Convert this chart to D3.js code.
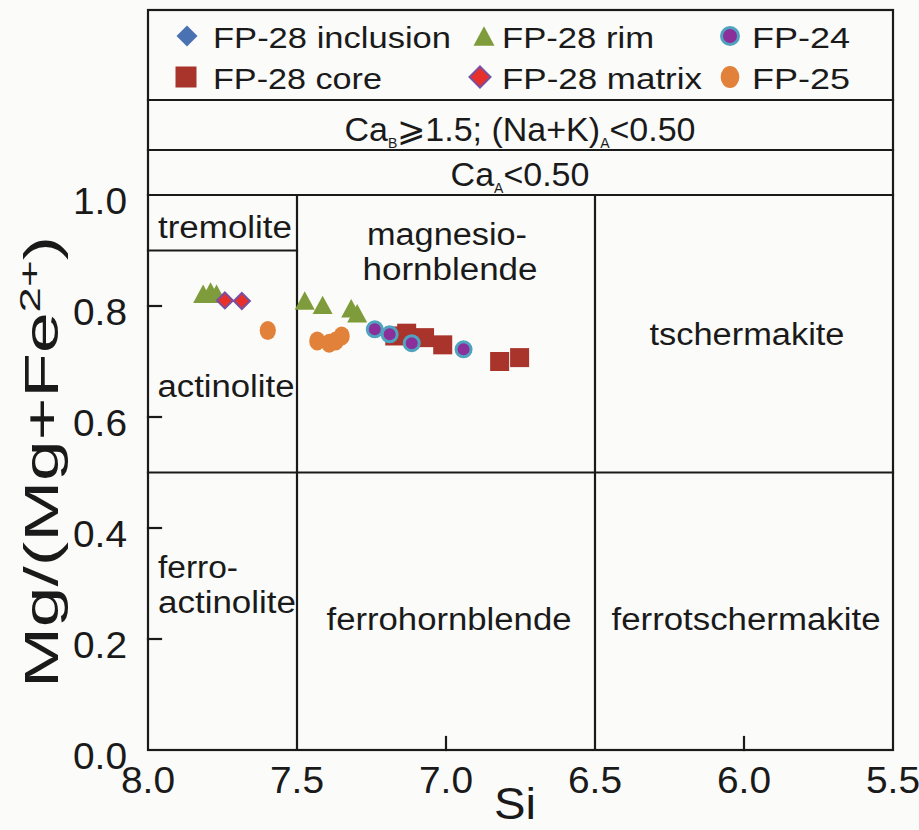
<!DOCTYPE html>
<html>
<head>
<meta charset="utf-8">
<script src="https://cdn.jsdelivr.net/npm/d3@7"></script>
<style>
  html, body { margin: 0; padding: 0; background: #fbfbf9; }
  svg { display: block; }
  text { font-family: "Liberation Sans", Arial, sans-serif; fill: #1a1a1a; }
</style>
</head>
<body>
<svg id="chart" width="919" height="830"></svg>
<script>
// ---- data: Si (apfu) vs Mg/(Mg+Fe2+) for calcic amphiboles ----
const fp28InclusionSi = [];
const fp28InclusionMg = [];

const fp28RimSi = [7.815, 7.79, 7.77, 7.474, 7.414, 7.318, 7.298];
const fp28RimMg = [0.822, 0.826, 0.822, 0.81, 0.802, 0.796, 0.787];

const fp28MatrixSi = [7.742, 7.685];
const fp28MatrixMg = [0.81, 0.809];

const fp25Si = [7.598, 7.432, 7.392, 7.37, 7.35];
const fp25Mg = [0.756, 0.737, 0.733, 0.737, 0.746];

const fp28CoreSi = [7.172, 7.132, 7.072, 7.011, 6.82, 6.753];
const fp28CoreMg = [0.746, 0.751, 0.743, 0.73, 0.7, 0.707];

const fp24Si = [7.239, 7.189, 7.115, 6.941];
const fp24Mg = [0.758, 0.749, 0.733, 0.722];

// axis ticks
const xTicks = [8.0, 7.5, 7.0, 6.5, 6.0, 5.5];
const yTicks = [0.0, 0.2, 0.4, 0.6, 0.8, 1.0];

// classification boundaries
const siBounds = [7.5, 6.5];
const mgBound = 0.5;
const tremoliteBound = 0.9;

// ---- layout ----
const svg = d3.select("#chart");
const M = { left: 148, right: 893, top: 10, bottom: 750, plotTop: 195, legendBottom: 100, bandBottom: 150 };

const x = d3.scaleLinear().domain([8.0, 5.5]).range([M.left, M.right]);
const y = d3.scaleLinear().domain([0, 1]).range([M.bottom, M.plotTop]);

const ink = "#1a1a1a";
const lw = 2.2;

function line(x1, y1, x2, y2) {
  svg.append("line").attr("x1", x1).attr("y1", y1).attr("x2", x2).attr("y2", y2)
    .attr("stroke", ink).attr("stroke-width", lw).attr("stroke-linecap", "square");
}

function label(txt, cx, baseline, size, width, anchor) {
  const t = svg.append("text").attr("x", cx).attr("y", baseline)
    .attr("font-size", size).attr("text-anchor", anchor || "middle").text(txt);
  if (width) t.attr("textLength", width).attr("lengthAdjust", "spacingAndGlyphs");
  return t;
}

// outer frame
svg.append("rect").attr("x", M.left).attr("y", M.top).attr("width", M.right - M.left).attr("height", M.bottom - M.top)
  .attr("fill", "none").attr("stroke", ink).attr("stroke-width", lw);

// header bands
line(M.left, M.legendBottom, M.right, M.legendBottom);
line(M.left, M.bandBottom, M.right, M.bandBottom);
line(M.left, y(1), M.right, y(1));

// field boundaries
siBounds.forEach(s => line(x(s), y(0), x(s), y(1)));
line(M.left, y(mgBound), M.right, y(mgBound));
line(M.left, y(tremoliteBound), x(7.5), y(tremoliteBound));

// inward ticks
const tickLen = 13;
yTicks.filter(v => v > 0 && v < 1).forEach(v => line(M.left, y(v), M.left + tickLen, y(v)));
xTicks.filter(v => v < 8 && v > 5.5 && !siBounds.includes(v)).forEach(v => line(x(v), M.bottom, x(v), M.bottom - tickLen));

// tick labels
xTicks.forEach(v => label(v.toFixed(1), x(v), 793, 37, 54));
yTicks.forEach(v => label(v.toFixed(1), 127, y(v) + 19, 37, 54, "end"));

// axis titles
label("Si", 515, 819, 45, 42);

const yt = svg.append("text")
  .attr("transform", "translate(58,462) rotate(-90)")
  .attr("text-anchor", "middle").attr("font-size", 48)
  .attr("textLength", 452).attr("lengthAdjust", "spacingAndGlyphs");
yt.append("tspan").text("Mg/(Mg+Fe");
yt.append("tspan").attr("font-size", 30).attr("dy", -18).text("2+");
yt.append("tspan").attr("dy", 18).text(")");

// band texts
const b1 = svg.append("text").attr("x", 520).attr("y", 141).attr("text-anchor", "middle").attr("font-size", 34);
b1.append("tspan").text("Ca");
b1.append("tspan").attr("font-size", 14).attr("dy", 7).text("B");
b1.append("tspan").attr("dy", -7).text("⩾1.5; (Na+K)");
b1.append("tspan").attr("font-size", 14).attr("dy", 7).text("A");
b1.append("tspan").attr("dy", -7).text("<0.50");

const b2 = svg.append("text").attr("x", 520).attr("y", 186).attr("text-anchor", "middle").attr("font-size", 34);
b2.append("tspan").text("Ca");
b2.append("tspan").attr("font-size", 14).attr("dy", 7).text("A");
b2.append("tspan").attr("dy", -7).text("<0.50");

// field names
label("tremolite", 225, 238, 31, 134);
label("magnesio-", 447, 245, 31, 160);
label("hornblende", 450, 280, 31, 175);
label("tschermakite", 747, 345, 31, 195);
label("actinolite", 226, 397, 31, 137);
label("ferro-", 158, 578, 31, 80, "start");
label("actinolite", 158, 613, 31, 138, "start");
label("ferrohornblende", 449, 630, 31, 245);
label("ferrotschermakite", 746, 630, 31, 269);

// ---- marker styles ----
const styles = {
  inclusion: { shape: "diamond", fill: "#4a72b2", stroke: "none", sw: 0 },
  rim:       { shape: "triangle", fill: "#7f9c3c", stroke: "none", sw: 0 },
  fp24:      { shape: "circle", fill: "#8b2f9a", stroke: "#4fa3bf", sw: 3 },
  core:      { shape: "square", fill: "#a8342c", stroke: "none", sw: 0 },
  matrix:    { shape: "diamond", fill: "#e8302a", stroke: "#7b4fa0", sw: 2 },
  fp25:      { shape: "ellipse", fill: "#e2813a", stroke: "none", sw: 0 }
};

function marker(g, st, cx, cy, size) {
  let el;
  if (st.shape === "diamond") {
    const r = size / 2;
    el = g.append("path").attr("d", `M${cx},${cy - r}L${cx + r},${cy}L${cx},${cy + r}L${cx - r},${cy}Z`);
  } else if (st.shape === "triangle") {
    const w = size, h = size * 0.92;
    el = g.append("path").attr("d", `M${cx},${cy - h / 2}L${cx + w / 2},${cy + h / 2}L${cx - w / 2},${cy + h / 2}Z`);
  } else if (st.shape === "square") {
    el = g.append("rect").attr("x", cx - size / 2).attr("y", cy - size / 2).attr("width", size).attr("height", size);
  } else if (st.shape === "circle") {
    el = g.append("circle").attr("cx", cx).attr("cy", cy).attr("r", size / 2 - st.sw / 2);
  } else {
    el = g.append("ellipse").attr("cx", cx).attr("cy", cy).attr("rx", size / 2 * 0.85).attr("ry", size / 2);
  }
  el.attr("fill", st.fill).attr("stroke", st.stroke).attr("stroke-width", st.sw);
}

// ---- data points (drawing order: rim, matrix, FP-25, core, FP-24) ----
const series = [
  { si: fp28InclusionSi, mg: fp28InclusionMg, st: styles.inclusion, size: 16 },
  { si: fp28RimSi, mg: fp28RimMg, st: styles.rim, size: 20 },
  { si: fp28MatrixSi, mg: fp28MatrixMg, st: styles.matrix, size: 16 },
  { si: fp25Si, mg: fp25Mg, st: styles.fp25, size: 19 },
  { si: fp28CoreSi, mg: fp28CoreMg, st: styles.core, size: 19 },
  { si: fp24Si, mg: fp24Mg, st: styles.fp24, size: 18 }
];
const pts = svg.append("g");
series.forEach(s => s.si.forEach((v, i) => marker(pts, s.st, x(v), y(s.mg[i]), s.size)));

// ---- legend ----
const legendItems = [
  { name: "FP-28 inclusion", st: styles.inclusion, mx: 187, tx: 213, w: 238, row: 0, size: 21 },
  { name: "FP-28 rim",       st: styles.rim,       mx: 484, tx: 502, w: 152, row: 0, size: 21 },
  { name: "FP-24",           st: styles.fp24,      mx: 730, tx: 752, w: 98,  row: 0, size: 20 },
  { name: "FP-28 core",      st: styles.core,      mx: 186, tx: 213, w: 169, row: 1, size: 21 },
  { name: "FP-28 matrix",    st: styles.matrix,    mx: 480, tx: 502, w: 200, row: 1, size: 21 },
  { name: "FP-25",           st: styles.fp25,      mx: 730, tx: 752, w: 98,  row: 1, size: 22 }
];
const lg = svg.append("g");
legendItems.forEach(d => {
  const cy = d.row === 0 ? 36 : 77;
  marker(lg, d.st, d.mx, cy, d.size);
  label(d.name, d.tx, cy + 12, 29, d.w, "start");
});
</script>
</body>
</html>
